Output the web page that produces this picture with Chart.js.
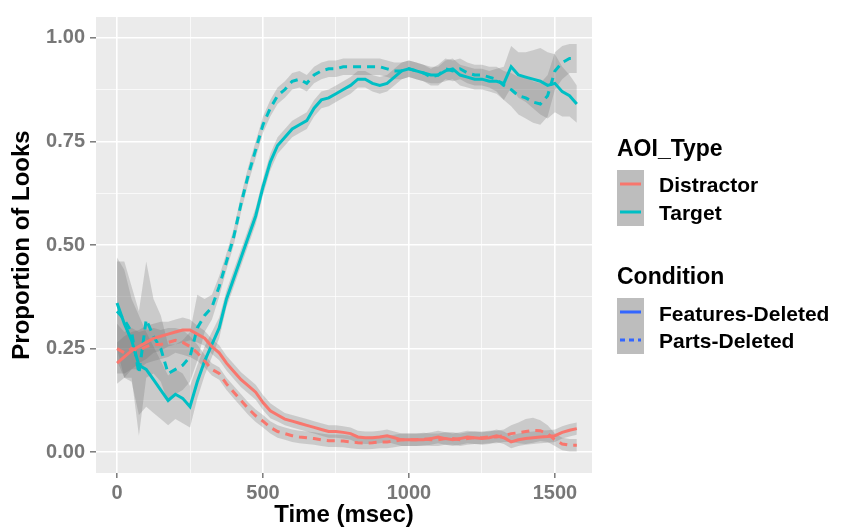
<!DOCTYPE html>
<html>
<head>
<meta charset="utf-8">
<script src="https://cdn.jsdelivr.net/npm/chart.js@4"></script>
<style>
  body { margin: 0; background: #fff; }
  #wrap { position: relative; width: 845px; height: 530px; font-family: "Liberation Sans", Arial, sans-serif; }
  .lg { position: absolute; font-weight: bold; color: #000; white-space: nowrap; line-height: 1; }
  .key { position: absolute; width: 27px; height: 28px; background: #bdbdbd; }
</style>
</head>
<body>
<div id="wrap">
  <canvas id="chart" width="845" height="530"></canvas>
  <div id="legend"></div>
</div>
<script>
// time bins (msec)
const time = [0, 25, 50, 75, 100, 125, 150, 175, 200, 225, 250, 275, 300, 325, 350, 375,
  400, 425, 450, 475, 500, 525, 550, 575, 600, 625, 650, 675, 700, 725, 750, 775,
  800, 825, 850, 875, 900, 925, 950, 975, 1000, 1025, 1050, 1075, 1100, 1125, 1150, 1175,
  1200, 1225, 1250, 1275, 1300, 1325, 1350, 1375, 1400, 1425, 1450, 1475, 1500, 1525, 1550, 1575];

// Target, Features-Deleted
const targetFeatures = [0.36, 0.31, 0.27, 0.21, 0.20, 0.175, 0.15, 0.125, 0.14, 0.13, 0.11, 0.17, 0.22, 0.26, 0.30, 0.37,
  0.42, 0.47, 0.52, 0.57, 0.64, 0.70, 0.74, 0.76, 0.78, 0.79, 0.80, 0.83, 0.85, 0.855, 0.865, 0.875,
  0.885, 0.90, 0.90, 0.89, 0.885, 0.89, 0.905, 0.92, 0.925, 0.92, 0.915, 0.91, 0.91, 0.92, 0.925, 0.91,
  0.905, 0.90, 0.90, 0.895, 0.895, 0.89, 0.93, 0.91, 0.905, 0.90, 0.895, 0.885, 0.89, 0.87, 0.86, 0.84];
const targetFeaturesSe = [0.11, 0.13, 0.10, 0.12, 0.09, 0.08, 0.07, 0.06, 0.06, 0.06, 0.05, 0.04, 0.035, 0.03, 0.025, 0.02,
  0.02, 0.02, 0.02, 0.02, 0.02, 0.02, 0.02, 0.02, 0.02, 0.02, 0.02, 0.02, 0.02, 0.02, 0.02, 0.02,
  0.02, 0.02, 0.02, 0.02, 0.02, 0.02, 0.02, 0.02, 0.02, 0.02, 0.02, 0.02, 0.02, 0.025, 0.025, 0.025,
  0.025, 0.025, 0.025, 0.025, 0.03, 0.04, 0.05, 0.055, 0.06, 0.07, 0.08, 0.08, 0.07, 0.06, 0.05, 0.045];

// Target, Parts-Deleted
const targetParts = [0.34, 0.32, 0.29, 0.19, 0.32, 0.28, 0.25, 0.19, 0.20, 0.21, 0.23, 0.30, 0.33, 0.35, 0.40, 0.46,
  0.52, 0.60, 0.67, 0.73, 0.79, 0.83, 0.86, 0.875, 0.895, 0.90, 0.89, 0.91, 0.92, 0.925, 0.925, 0.93,
  0.93, 0.93, 0.93, 0.93, 0.93, 0.925, 0.92, 0.92, 0.925, 0.92, 0.915, 0.905, 0.91, 0.925, 0.92, 0.925,
  0.915, 0.91, 0.91, 0.905, 0.90, 0.885, 0.875, 0.86, 0.855, 0.845, 0.84, 0.86, 0.92, 0.94, 0.95, 0.95];
const targetPartsSe = [0.12, 0.14, 0.11, 0.15, 0.14, 0.09, 0.08, 0.07, 0.06, 0.06, 0.06, 0.08, 0.04, 0.03, 0.025, 0.02,
  0.02, 0.02, 0.02, 0.02, 0.02, 0.02, 0.02, 0.02, 0.02, 0.02, 0.02, 0.02, 0.02, 0.02, 0.02, 0.02,
  0.02, 0.02, 0.02, 0.02, 0.02, 0.02, 0.02, 0.02, 0.02, 0.02, 0.02, 0.02, 0.025, 0.025, 0.025, 0.025,
  0.025, 0.025, 0.025, 0.025, 0.03, 0.035, 0.04, 0.045, 0.05, 0.05, 0.05, 0.05, 0.045, 0.04, 0.035, 0.035];

// Distractor, Features-Deleted
const distractorFeatures = [0.215, 0.23, 0.245, 0.255, 0.265, 0.275, 0.28, 0.285, 0.29, 0.295, 0.295, 0.285, 0.275, 0.255, 0.24, 0.215,
  0.195, 0.175, 0.16, 0.145, 0.12, 0.10, 0.09, 0.08, 0.075, 0.07, 0.065, 0.06, 0.055, 0.05, 0.05, 0.048,
  0.045, 0.037, 0.035, 0.035, 0.037, 0.04, 0.035, 0.03, 0.03, 0.03, 0.03, 0.033, 0.037, 0.033, 0.03, 0.033,
  0.037, 0.035, 0.033, 0.035, 0.04, 0.035, 0.025, 0.03, 0.033, 0.035, 0.037, 0.038, 0.04, 0.048, 0.053, 0.057];
const distractorFeaturesSe = [0.05, 0.05, 0.045, 0.04, 0.04, 0.035, 0.035, 0.03, 0.03, 0.03, 0.025, 0.02, 0.018, 0.018, 0.018, 0.018,
  0.018, 0.018, 0.018, 0.018, 0.018, 0.018, 0.016, 0.015, 0.015, 0.015, 0.015, 0.015, 0.015, 0.015, 0.015, 0.015,
  0.015, 0.015, 0.015, 0.015, 0.015, 0.015, 0.015, 0.015, 0.015, 0.015, 0.015, 0.015, 0.015, 0.015, 0.015, 0.015,
  0.015, 0.015, 0.015, 0.015, 0.015, 0.015, 0.015, 0.015, 0.015, 0.015, 0.015, 0.015, 0.015, 0.015, 0.015, 0.015];

// Distractor, Parts-Deleted
const distractorParts = [0.25, 0.24, 0.25, 0.245, 0.255, 0.26, 0.26, 0.265, 0.27, 0.265, 0.255, 0.24, 0.22, 0.20, 0.19, 0.165,
  0.145, 0.125, 0.105, 0.088, 0.075, 0.06, 0.05, 0.045, 0.04, 0.037, 0.035, 0.033, 0.03, 0.028, 0.028, 0.027,
  0.025, 0.023, 0.022, 0.023, 0.025, 0.025, 0.027, 0.03, 0.03, 0.03, 0.032, 0.03, 0.03, 0.033, 0.033, 0.03,
  0.033, 0.035, 0.035, 0.037, 0.037, 0.04, 0.045, 0.047, 0.05, 0.053, 0.052, 0.045, 0.03, 0.02, 0.017, 0.017];
const distractorPartsSe = [0.06, 0.05, 0.05, 0.045, 0.04, 0.04, 0.035, 0.035, 0.03, 0.03, 0.025, 0.02, 0.015, 0.015, 0.015, 0.015,
  0.015, 0.015, 0.015, 0.015, 0.015, 0.015, 0.015, 0.015, 0.015, 0.015, 0.015, 0.015, 0.015, 0.015, 0.015, 0.015,
  0.015, 0.015, 0.015, 0.015, 0.015, 0.015, 0.015, 0.015, 0.015, 0.015, 0.015, 0.015, 0.015, 0.015, 0.015, 0.015,
  0.015, 0.015, 0.015, 0.015, 0.015, 0.015, 0.02, 0.025, 0.03, 0.03, 0.025, 0.02, 0.015, 0.015, 0.015, 0.015];

// axis ticks
const xTicks = [0, 500, 1000, 1500];
const xTickLabels = ['0', '500', '1000', '1500'];
const xMinor = [250, 750, 1250];
const yTicks = [0, 0.25, 0.5, 0.75, 1];
const yTickLabels = ['0.00', '0.25', '0.50', '0.75', '1.00'];
const yMinor = [0.125, 0.375, 0.625, 0.875];

const aoiTypes = ['Distractor', 'Target'];
const conditions = ['Features-Deleted', 'Parts-Deleted'];

const RED = '#F8766D';
const TEAL = '#00BFC4';
const RIBBON = 'rgba(115, 115, 115, 0.27)';

const series = [
  { vals: distractorFeatures, se: distractorFeaturesSe, color: RED, dash: [] },
  { vals: distractorParts, se: distractorPartsSe, color: RED, dash: [8, 6] },
  { vals: targetFeatures, se: targetFeaturesSe, color: TEAL, dash: [] },
  { vals: targetParts, se: targetPartsSe, color: TEAL, dash: [8, 6] }
];

let datasets = [];
// lines first so they are drawn on top
series.forEach(s => {
  datasets.push({
    data: time.map((t, i) => ({ x: t, y: s.vals[i] })),
    borderColor: s.color,
    borderWidth: 3,
    borderDash: s.dash,
    pointRadius: 0,
    fill: false,
    tension: 0
  });
});
series.forEach(s => {
  datasets.push({
    data: time.map((t, i) => ({ x: t, y: s.vals[i] + s.se[i] })),
    borderWidth: 0,
    pointRadius: 0,
    backgroundColor: RIBBON,
    fill: '+1'
  });
  datasets.push({
    data: time.map((t, i) => ({ x: t, y: s.vals[i] - s.se[i] })),
    borderWidth: 0,
    pointRadius: 0,
    fill: false
  });
});

const panelBg = {
  id: 'panelBg',
  beforeDraw(chart) {
    const a = chart.chartArea;
    const ctx = chart.ctx;
    ctx.save();
    ctx.fillStyle = '#EBEBEB';
    ctx.fillRect(a.left, a.top, a.right - a.left, a.bottom - a.top);
    ctx.restore();
  }
};

const tickFont = { family: 'Liberation Sans', size: 20, weight: 'bold' };
const titleFont = { family: 'Liberation Sans', size: 24, weight: 'bold' };

const canvas = document.getElementById('chart');
const context = canvas.getContext('2d');

var chart = new Chart(context, {
  type: 'line',
  data: { datasets: datasets },
  options: {
    responsive: false,
    animation: false,
    events: [],
    layout: { padding: { top: 14, right: 253, left: 0, bottom: 0 } },
    plugins: { legend: { display: false }, tooltip: { enabled: false } },
    scales: {
      x: {
        type: 'linear',
        min: -72,
        max: 1627,
        afterBuildTicks: scale => {
          scale.ticks = xTicks.concat(xMinor).map(v => ({ value: v }));
        },
        afterFit: scale => { scale.height = 57; },
        border: { display: false },
        grid: {
          color: '#FFFFFF',
          lineWidth: ctx => xTicks.includes(ctx.tick.value) ? 1.6 : 0.7,
          tickColor: ctx => xTicks.includes(ctx.tick.value) ? '#7a7a7a' : 'rgba(0,0,0,0)',
          tickLength: 5,
          tickWidth: 1.5
        },
        ticks: {
          autoSkip: false,
          maxRotation: 0,
          padding: 3,
          color: '#777777',
          font: tickFont,
          callback: v => {
            const k = xTicks.indexOf(v);
            return k >= 0 ? xTickLabels[k] : '';
          }
        },
        title: { display: true, text: 'Time (msec)', color: '#000', font: titleFont, padding: { top: 0, bottom: 0 } }
      },
      y: {
        type: 'linear',
        min: -0.05,
        max: 1.05,
        afterBuildTicks: scale => {
          scale.ticks = yTicks.concat(yMinor).map(v => ({ value: v }));
        },
        afterFit: scale => { scale.width = 96; },
        border: { display: false },
        grid: {
          color: '#FFFFFF',
          lineWidth: ctx => yTicks.includes(ctx.tick.value) ? 1.6 : 0.7,
          tickColor: ctx => yTicks.includes(ctx.tick.value) ? '#7a7a7a' : 'rgba(0,0,0,0)',
          tickLength: 6,
          tickWidth: 1.5
        },
        ticks: {
          autoSkip: false,
          padding: 5,
          color: '#777777',
          font: tickFont,
          callback: v => {
            const k = yTicks.indexOf(v);
            return k >= 0 ? yTickLabels[k] : '';
          }
        },
        title: { display: true, text: 'Proportion of Looks', color: '#000', font: titleFont, padding: { top: 8, bottom: 0 } }
      }
    }
  },
  plugins: [panelBg]
});

// legend (two guides, like ggplot)
const legend = document.getElementById('legend');
function addText(txt, left, cy, size) {
  const d = document.createElement('div');
  d.className = 'lg';
  d.textContent = txt;
  d.style.left = left + 'px';
  d.style.top = (cy - size * 0.5) + 'px';
  d.style.fontSize = size + 'px';
  legend.appendChild(d);
}
function addKey(top, color, dashed) {
  const k = document.createElement('div');
  k.className = 'key';
  k.style.left = '617px';
  k.style.top = top + 'px';
  k.innerHTML = '<svg width="27" height="28"><line x1="3" y1="14" x2="24" y2="14" stroke="' + color +
    '" stroke-width="3"' + (dashed ? ' stroke-dasharray="5,4"' : '') + '/></svg>';
  legend.appendChild(k);
}
addText('AOI_Type', 617, 148, 23);
addKey(170, RED, false);
addKey(198, TEAL, false);
addText(aoiTypes[0], 659, 184, 21);
addText(aoiTypes[1], 659, 212, 21);
addText('Condition', 617, 276, 23);
addKey(298, '#3366FF', false);
addKey(326, '#3366FF', true);
addText(conditions[0], 659, 313, 21);
addText(conditions[1], 659, 340, 21);
</script>
</body>
</html>
